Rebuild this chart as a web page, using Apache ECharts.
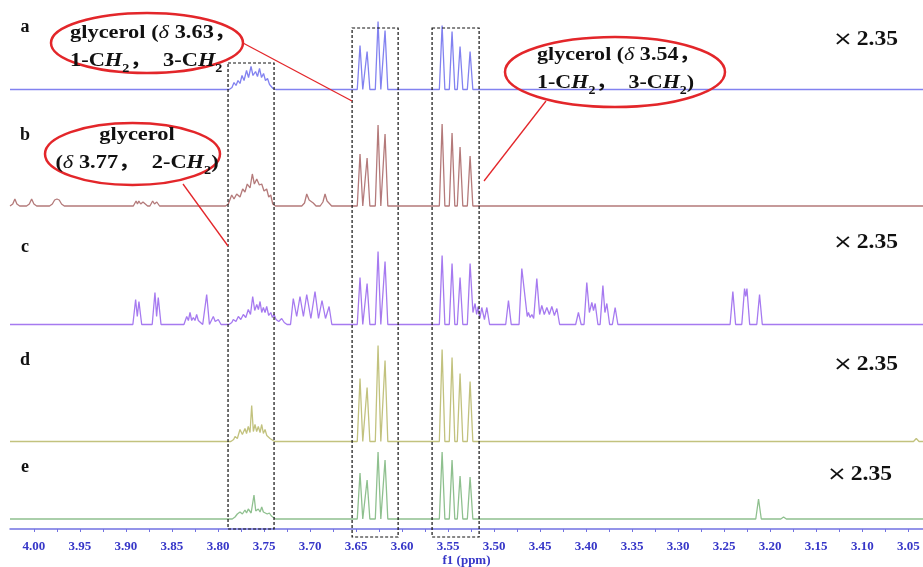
<!DOCTYPE html>
<html>
<head>
<meta charset="utf-8">
<script src="https://cdn.jsdelivr.net/npm/echarts@6.0.0/dist/echarts.min.js"></script>
<style>
  html, body { margin: 0; padding: 0; background: #fff; }
  #chart { width: 923px; height: 567px; }
</style>
</head>
<body>
<div id="chart"></div>
<script>
// chemical shift axis (ppm), drawn reversed like an NMR plot
const X_MIN = 3.034;
const X_MAX = 4.026;
const tickLabels = [4.00, 3.95, 3.90, 3.85, 3.80, 3.75, 3.70, 3.65, 3.60, 3.55,
  3.50, 3.45, 3.40, 3.35, 3.30, 3.25, 3.20, 3.15, 3.10, 3.05];

// peak lists [ppm, intensity], one per spectrum (a..e)
const traceA = [
  [3.7848, 2], [3.7826, 7], [3.7804, 4], [3.7783, 9], [3.7761, 6], [3.7739, 14], [3.7717, 9],
  [3.7690, 19], [3.7668, 12], [3.7641, 23], [3.7620, 14], [3.7592, 18], [3.7571, 13],
  [3.7549, 21], [3.7527, 12], [3.7505, 16], [3.7484, 9], [3.7462, 11], [3.7440, 5],
  [3.7424, 6], [3.7402, 1],
  [3.6457, 44], [3.6380, 38], [3.6261, 68], [3.6185, 59],
  [3.5565, 64], [3.5457, 58], [3.5370, 43], [3.5261, 38]
];
const traceB = [
  [4.0230, 2], [4.0207, 7], [4.0185, 2],
  [4.0050, 2], [4.0025, 7], [4.0000, 2],
  [3.9800, 2], [3.9775, 6], [3.9750, 7], [3.9725, 6], [3.9700, 2],
  [3.8890, 5], [3.8875, 2], [3.8860, 5], [3.8840, 2], [3.8815, 4], [3.8795, 2],
  [3.8710, 5], [3.8690, 2], [3.8665, 4],
  [3.7888, 2], [3.7851, 11], [3.7826, 7], [3.7797, 12], [3.7761, 9], [3.7732, 17],
  [3.7707, 14], [3.7682, 22], [3.7652, 18], [3.7627, 32], [3.7605, 22], [3.7579, 27],
  [3.7551, 21], [3.7525, 22], [3.7500, 15], [3.7471, 17], [3.7449, 9], [3.7427, 11],
  [3.7405, 2],
  [3.7060, 3], [3.7036, 12], [3.7010, 6], [3.6990, 7], [3.6965, 3],
  [3.6860, 4], [3.6837, 12], [3.6815, 5], [3.6795, 3],
  [3.6457, 52], [3.6380, 48], [3.6261, 81], [3.6185, 72],
  [3.5565, 82], [3.5457, 73], [3.5370, 59], [3.5261, 50]
];
const traceC = [
  [3.8895, 25], [3.8877, 8], [3.8859, 23],
  [3.8685, 32], [3.8667, 8], [3.8649, 27],
  [3.8340, 8], [3.8322, 4], [3.8304, 12], [3.8286, 4], [3.8268, 7], [3.8250, 4],
  [3.8232, 10], [3.8214, 4], [3.8196, 6],
  [3.8123, 30],
  [3.8051, 8], [3.8030, 3], [3.7997, 5],
  [3.7850, 2], [3.7834, 5], [3.7805, 3], [3.7779, 8], [3.7752, 5], [3.7725, 10],
  [3.7698, 7], [3.7671, 15], [3.7647, 10], [3.7623, 28], [3.7601, 14], [3.7579, 20],
  [3.7561, 15], [3.7543, 23], [3.7525, 12], [3.7507, 17], [3.7489, 12], [3.7471, 18],
  [3.7449, 9], [3.7427, 12], [3.7409, 7], [3.7391, 10], [3.7370, 5],
  [3.7340, 3], [3.7308, 6], [3.7280, 2],
  [3.7182, 26], [3.7145, 8], [3.7109, 28], [3.7072, 8], [3.7036, 30], [3.6991, 6],
  [3.6946, 33], [3.6908, 6], [3.6870, 24], [3.6832, 6], [3.6793, 18],
  [3.6457, 47], [3.6380, 41], [3.6261, 73], [3.6185, 63],
  [3.5565, 69], [3.5457, 61], [3.5370, 47], [3.5261, 61],
  [3.5230, 12], [3.5207, 21], [3.5190, 10], [3.5174, 18], [3.5155, 6], [3.5134, 17],
  [3.5105, 5], [3.5079, 17],
  [3.4844, 24],
  [3.4699, 56],
  [3.4640, 8], [3.4627, 12], [3.4608, 7], [3.4590, 10], [3.4570, 6], [3.4536, 46],
  [3.4505, 10], [3.4482, 19], [3.4455, 10], [3.4427, 17], [3.4400, 10], [3.4373, 18],
  [3.4345, 9], [3.4318, 16],
  [3.4084, 12],
  [3.3993, 42], [3.3965, 12], [3.3938, 22], [3.3920, 14], [3.3902, 21],
  [3.3818, 39], [3.3796, 12], [3.3775, 21],
  [3.3685, 17],
  [3.2406, 33], [3.2279, 36], [3.2266, 28], [3.2253, 36], [3.2116, 30]
];
const traceD = [
  [3.7830, 2], [3.7815, 5], [3.7790, 3], [3.7761, 12], [3.7735, 7], [3.7707, 13],
  [3.7690, 8], [3.7671, 15], [3.7652, 9], [3.7634, 36], [3.7616, 10], [3.7598, 17],
  [3.7580, 10], [3.7562, 15], [3.7543, 9], [3.7525, 17], [3.7507, 8], [3.7489, 12],
  [3.7470, 6], [3.7453, 8], [3.7435, 3], [3.7416, 3],
  [3.6457, 63], [3.6380, 54], [3.6261, 96], [3.6185, 81],
  [3.5565, 92], [3.5457, 84], [3.5370, 68], [3.5261, 60],
  [3.0413, 3]
];
const traceE = [
  [3.7815, 2], [3.7790, 5], [3.7761, 7], [3.7735, 5], [3.7707, 9], [3.7690, 6],
  [3.7671, 10], [3.7640, 6], [3.7625, 8], [3.7609, 24], [3.7590, 8], [3.7562, 10],
  [3.7543, 7], [3.7525, 12], [3.7507, 7], [3.7489, 9], [3.7465, 5], [3.7442, 6],
  [3.7420, 3], [3.7405, 2],
  [3.6457, 46], [3.6380, 39], [3.6261, 67], [3.6185, 59],
  [3.5565, 67], [3.5457, 59], [3.5370, 43], [3.5261, 42],
  [3.2127, 20], [3.1855, 2]
];

const traces = [traceA, traceB, traceC, traceD, traceE];
const traceNames = ['a', 'b', 'c', 'd', 'e'];
const scaleNote = ['× 2.35', '', '× 2.35', '× 2.35', '× 2.35'];
// ppm ranges of the three dashed boxes
const boxRanges = [[3.7891, 3.7391], [3.6543, 3.6043], [3.5674, 3.5163]];

const colors = ['#8282f0', '#b47a7a', '#a67af0', '#c2c27e', '#8fc08f'];
const baselines = [89.5, 206, 324.5, 441.5, 519];
const AXIS_Y = 529;
const SERIF = '"Liberation Serif", "Times New Roman", "Noto Sans CJK SC", serif';
const BLUE = '#3636c8';
const FOOT = 0.003;

// peaks -> polyline, peaks far apart get a baseline foot on each side
function toLine(peaks) {
  const pts = [[X_MAX, 0]];
  peaks.forEach((p, i) => {
    const prev = peaks[i - 1];
    if (!prev || prev[0] - p[0] > 2 * FOOT) {
      if (prev) pts.push([prev[0] - FOOT, 0]);
      pts.push([p[0] + FOOT, 0]);
    }
    pts.push(p);
  });
  pts.push([peaks[peaks.length - 1][0] - FOOT, 0], [X_MIN, 0]);
  return pts;
}

const chart = echarts.init(document.getElementById('chart'));

// each spectrum sits in its own grid; the last one reaches down to the axis
const grids = baselines.map((b, i) => {
  const bottom = i === 4 ? 567 - AXIS_Y : 567 - b;
  const height = i === 4 ? 100 + (AXIS_Y - b) : 100;
  return { left: 10, right: 0, bottom, height, outerBoundsMode: 'none' };
});

const xAxes = traces.map((t, i) => {
  const ax = {
    gridIndex: i, type: 'value', min: X_MIN, max: X_MAX, inverse: true,
    show: i === 4, splitLine: { show: false }
  };
  if (i === 4) {
    Object.assign(ax, {
      name: 'f1 (ppm)', nameLocation: 'middle', nameGap: 25,
      nameTextStyle: { color: BLUE, fontFamily: SERIF, fontWeight: 'bold', fontSize: 13 },
      axisLine: { onZero: false, lineStyle: { color: '#7272e2', width: 1.5 } },
      axisTick: {
        show: true, length: 3,
        customValues: tickLabels.flatMap(v => [v, v - 0.025]),
        lineStyle: { color: '#7272e2' }
      },
      axisLabel: {
        customValues: tickLabels, formatter: v => v.toFixed(2), margin: 11,
        color: BLUE, fontFamily: SERIF, fontWeight: 'bold', fontSize: 13
      }
    });
  }
  return ax;
});

const yAxes = traces.map((t, i) => ({
  gridIndex: i, type: 'value', min: i === 4 ? baselines[4] - AXIS_Y : 0, max: 100, show: false
}));

const series = traces.map((t, i) => ({
  type: 'line', name: traceNames[i], xAxisIndex: i, yAxisIndex: i,
  data: toLine(t), symbol: 'none', silent: true, clip: false,
  lineStyle: { color: colors[i], width: 1.3 }
}));

chart.setOption({ animation: false, grid: grids, xAxis: xAxes, yAxis: yAxes, series });

// annotations (the original lettering is stretched sideways, hence scaleX)
const txt = { fontFamily: SERIF, fontWeight: 'bold', fontSize: 19, fill: '#111' };
const rich = {
  b: Object.assign({}, txt, { lineHeight: 28 }),
  i: Object.assign({}, txt, { fontStyle: 'italic', lineHeight: 28 }),
  d: Object.assign({}, txt, { fontStyle: 'italic', fontWeight: 'normal', lineHeight: 28 }),
  s: Object.assign({}, txt, { fontSize: 12, lineHeight: 12, verticalAlign: 'bottom' })
};

const graphic = [];
boxRanges.forEach((r, k) => {
  const x1 = chart.convertToPixel({ xAxisIndex: 4 }, r[0]);
  const x2 = chart.convertToPixel({ xAxisIndex: 4 }, r[1]);
  const top = k === 0 ? 63 : 28;
  const bottom = k === 0 ? 529 : 537;
  graphic.push({
    type: 'rect', z: 100, silent: true,
    shape: { x: x1, y: top, width: x2 - x1, height: bottom - top },
    style: { fill: 'none', stroke: '#111', lineWidth: 1.2, lineDash: [3, 2] }
  });
});

traceNames.forEach((n, i) => {
  graphic.push({
    type: 'text', z: 100, x: 25, y: [27, 135, 247, 360, 467][i],
    style: { text: n, fontFamily: SERIF, fontWeight: 'bold', fontSize: 18, fill: '#111',
      align: 'center', verticalAlign: 'middle' }
  });
  if (scaleNote[i]) {
    graphic.push({
      type: 'text', z: 100, x: i === 4 ? 827 : 833, y: [40, 0, 243, 365, 475][i], scaleX: 1.18,
      style: {
        text: '{x|×} {n|2.35}', align: 'left', verticalAlign: 'middle',
        rich: {
          x: { fontFamily: '"DejaVu Sans", sans-serif', fontSize: 20, fill: '#111' },
          n: { fontFamily: SERIF, fontWeight: 'bold', fontSize: 20, fill: '#111' }
        }
      }
    });
  }
});

const ellipses = [[147, 43, 96, 30], [615, 72, 110, 35], [132.5, 154, 87.5, 31]];
ellipses.forEach(e => graphic.push({
  type: 'ellipse', z: 101, silent: true,
  shape: { cx: e[0], cy: e[1], rx: e[2], ry: e[3] },
  style: { fill: 'none', stroke: '#e3262a', lineWidth: 2.5 }
}));

const leaders = [[243, 43, 352, 101], [546, 101, 484, 181], [183, 184, 228, 246]];
leaders.forEach(l => graphic.push({
  type: 'line', z: 101, silent: true,
  shape: { x1: l[0], y1: l[1], x2: l[2], y2: l[3] },
  style: { stroke: '#e3262a', lineWidth: 1.3 }
}));

graphic.push(
  { type: 'text', z: 102, x: 70, y: 19, scaleX: 1.18, style: { rich, align: 'left',
    text: '{b|glycerol (}{d|δ}{b| 3.63，}\n{b|1-C}{i|H}{s|2}{b|，  3-C}{i|H}{s|2}' } },
  { type: 'text', z: 102, x: 537, y: 41, scaleX: 1.16, style: { rich, align: 'left',
    text: '{b|glycerol (}{d|δ}{b| 3.54，}\n{b|1-C}{i|H}{s|2}{b|，  3-C}{i|H}{s|2}{b|)}' } },
  { type: 'text', z: 102, x: 137, y: 121, scaleX: 1.18, style: { rich, align: 'center',
    text: '{b|glycerol}\n{b|(}{d|δ}{b| 3.77，  2-C}{i|H}{s|2}{b|)}' } }
);

chart.setOption({ graphic });
</script>
</body>
</html>
